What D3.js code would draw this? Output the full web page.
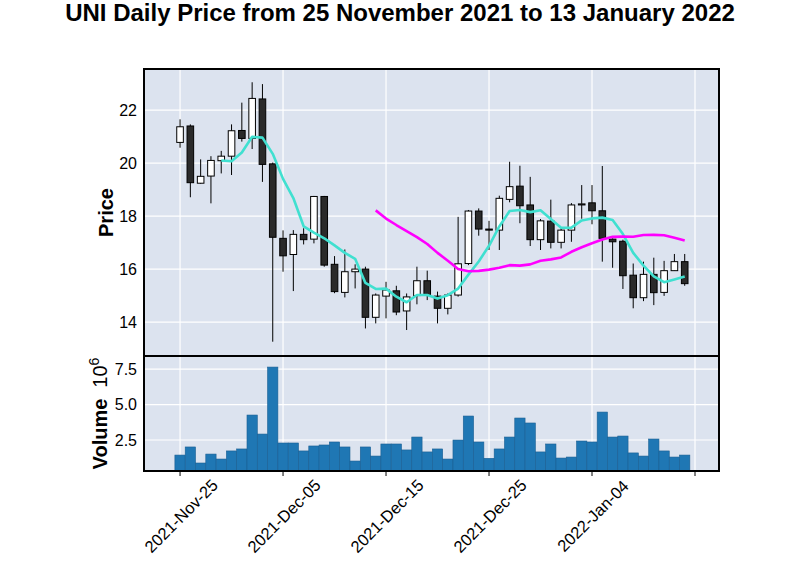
<!DOCTYPE html>
<html>
<head>
<meta charset="utf-8">
<script src="https://cdn.jsdelivr.net/npm/d3@7"></script>
<style>
body{margin:0;background:#fff;}
text{font-family:"Liberation Sans",Arial,sans-serif;fill:#000;}
</style>
</head>
<body>
<svg id="chart" width="800" height="575"></svg>
<script>
// daily UNI candles, 25 Nov 2021 - 13 Jan 2022
var dates = ["2021-11-25","2021-11-26","2021-11-27","2021-11-28","2021-11-29","2021-11-30",
  "2021-12-01","2021-12-02","2021-12-03","2021-12-04","2021-12-05","2021-12-06","2021-12-07",
  "2021-12-08","2021-12-09","2021-12-10","2021-12-11","2021-12-12","2021-12-13","2021-12-14",
  "2021-12-15","2021-12-16","2021-12-17","2021-12-18","2021-12-19","2021-12-20","2021-12-21",
  "2021-12-22","2021-12-23","2021-12-24","2021-12-25","2021-12-26","2021-12-27","2021-12-28",
  "2021-12-29","2021-12-30","2021-12-31","2022-01-01","2022-01-02","2022-01-03","2022-01-04",
  "2022-01-05","2022-01-06","2022-01-07","2022-01-08","2022-01-09","2022-01-10","2022-01-11",
  "2022-01-12","2022-01-13"];
var opens  = [20.78,21.40,19.24,19.51,20.09,20.26,21.23,20.93,22.42,19.97,17.16,16.55,17.31,17.13,18.74,
  16.18,15.12,15.90,16.00,14.18,14.98,15.18,14.42,15.00,15.56,14.98,14.52,15.02,16.21,18.19,
  17.51,17.47,18.63,19.13,18.42,17.11,17.81,17.01,17.47,18.42,18.50,18.20,17.13,17.05,15.77,
  14.92,15.80,15.12,15.94,16.28];
var highs  = [21.65,21.46,20.14,20.26,20.46,21.46,22.28,23.05,22.98,20.02,17.46,17.47,17.54,18.76,18.76,
  16.49,16.74,16.18,16.09,15.08,15.52,15.37,15.08,16.09,15.94,15.15,15.08,17.97,18.23,18.29,
  17.82,18.77,20.05,19.90,19.48,17.89,18.62,17.54,18.49,19.17,19.17,19.89,17.16,17.11,16.21,
  16.28,16.43,16.31,16.57,16.57];
var lows   = [20.58,18.71,19.22,18.48,19.61,19.55,20.81,20.53,19.29,13.26,15.90,15.17,16.93,16.97,16.09,
  15.09,14.93,15.27,13.76,13.95,14.14,14.26,13.70,14.67,14.83,13.95,14.29,14.96,16.15,17.26,
  16.72,16.72,18.52,17.73,16.87,16.72,16.78,16.78,17.03,17.90,17.69,16.28,16.05,15.25,14.52,
  14.79,14.64,14.99,15.94,15.37];
var closes = [21.37,19.26,19.50,20.10,20.26,21.22,20.93,22.44,19.95,17.20,16.50,17.31,17.11,18.74,16.15,
  15.15,15.90,16.00,14.18,15.02,15.21,14.38,14.95,15.56,15.02,14.52,15.02,16.20,18.19,17.51,
  17.47,18.67,19.11,18.39,17.11,17.82,17.01,17.47,18.42,18.46,18.20,17.16,17.03,15.75,14.92,
  15.80,15.11,15.94,16.28,15.45];
// volume in units of 10^6
var volumes = [1.44,2.01,0.88,1.51,1.16,1.73,1.87,4.26,2.92,7.64,2.29,2.29,1.73,2.08,2.15,
  2.36,2.01,1.02,2.01,1.37,2.22,2.22,1.80,2.71,1.66,1.87,1.16,2.50,4.19,2.36,
  1.21,1.87,2.71,4.05,3.70,1.66,2.22,1.23,1.30,2.43,2.36,4.47,2.71,2.78,1.59,
  1.37,2.57,1.73,1.30,1.44];

var priceTicks = [14, 16, 18, 20, 22];
var volumeTicks = [2.5, 5.0, 7.5];
var dateTickIndex = [0, 10, 20, 30, 40, 50];
var mavWindows = [5, 20];
var mavColors = ["#40e0d0", "#ff00ff"];

function drawChart(){
    var svg = d3.select("#chart");
    var pad = {left: 144, right: 719, top: 69, split: 356, bottom: 471};
    var bg = "#dce3ef";

    var parse = d3.timeParse("%Y-%m-%d");
    var fmt = d3.timeFormat("%Y-%b-%d");
    var idx = d3.range(dates.length);

    var x = d3.scaleLinear().domain([-3.5, 52.33]).range([pad.left, pad.right]);
    var yP = d3.scaleLinear().domain([12.72, 23.55]).range([pad.split, pad.top]);
    var yV = d3.scaleLinear().domain([0.317, 8.42]).range([pad.bottom, pad.split]);

    // panel background
    svg.append("rect").attr("x", pad.left).attr("y", pad.top)
        .attr("width", pad.right - pad.left).attr("height", pad.bottom - pad.top).attr("fill", bg);

    svg.append("clipPath").attr("id", "clipP").append("rect")
        .attr("x", pad.left).attr("y", pad.top).attr("width", pad.right - pad.left).attr("height", pad.split - pad.top);
    svg.append("clipPath").attr("id", "clipV").append("rect")
        .attr("x", pad.left).attr("y", pad.split).attr("width", pad.right - pad.left).attr("height", pad.bottom - pad.split);

    // grid
    var grid = svg.append("g").attr("stroke", "#fff").attr("stroke-width", 1.2);
    grid.selectAll(".hp").data(priceTicks).enter().append("line")
        .attr("x1", pad.left).attr("x2", pad.right).attr("y1", d => yP(d)).attr("y2", d => yP(d));
    grid.selectAll(".hv").data(volumeTicks).enter().append("line")
        .attr("x1", pad.left).attr("x2", pad.right).attr("y1", d => yV(d)).attr("y2", d => yV(d));
    grid.selectAll(".vg").data(dateTickIndex).enter().append("line")
        .attr("x1", d => x(d)).attr("x2", d => x(d)).attr("y1", pad.top).attr("y2", pad.bottom);

    // volume bars
    var step = x(1) - x(0);
    svg.append("g").attr("clip-path", "url(#clipV)")
        .selectAll("rect").data(idx).enter().append("rect")
        .attr("x", i => x(i) - step / 2)
        .attr("width", step)
        .attr("y", i => yV(volumes[i]))
        .attr("height", i => pad.bottom - yV(volumes[i]))
        .attr("fill", "#1f77b4")
        .attr("stroke", "#1a5f93")
        .attr("stroke-width", 0.6);

    // candles
    var bw = 6.6;
    var candles = svg.append("g").attr("clip-path", "url(#clipP)");
    candles.selectAll("line").data(idx).enter().append("line")
        .attr("x1", i => x(i)).attr("x2", i => x(i))
        .attr("y1", i => yP(highs[i])).attr("y2", i => yP(lows[i]))
        .attr("stroke", "#000").attr("stroke-width", 1);
    candles.selectAll("rect").data(idx).enter().append("rect")
        .attr("x", i => x(i) - bw / 2)
        .attr("width", bw)
        .attr("y", i => yP(Math.max(opens[i], closes[i])))
        .attr("height", i => Math.max(1, Math.abs(yP(opens[i]) - yP(closes[i]))))
        .attr("fill", i => closes[i] >= opens[i] ? "#fff" : "#2a2a2a")
        .attr("stroke", "#000").attr("stroke-width", 1);

    // moving averages of close
    mavWindows.forEach(function(w, k){
        var pts = idx.filter(i => i >= w - 1)
                     .map(i => [i, d3.mean(closes.slice(i - w + 1, i + 1))]);
        var line = d3.line().x(d => x(d[0])).y(d => yP(d[1]));
        svg.append("path").attr("clip-path", "url(#clipP)")
            .attr("d", line(pts))
            .attr("fill", "none")
            .attr("stroke", mavColors[k])
            .attr("stroke-width", 2.6)
            .attr("stroke-linejoin", "round");
    });

    // frames
    svg.append("rect").attr("x", pad.left).attr("y", pad.top)
        .attr("width", pad.right - pad.left).attr("height", pad.bottom - pad.top)
        .attr("fill", "none").attr("stroke", "#000").attr("stroke-width", 2);
    svg.append("line").attr("x1", pad.left).attr("x2", pad.right).attr("y1", pad.split).attr("y2", pad.split)
        .attr("stroke", "#000").attr("stroke-width", 2);

    // y tick labels
    svg.selectAll(".pt").data(priceTicks).enter().append("text")
        .attr("x", 137).attr("y", d => yP(d)).attr("dy", "0.35em")
        .attr("text-anchor", "end").style("font-size", "16px")
        .text(d => d);
    svg.selectAll(".vt").data(volumeTicks).enter().append("text")
        .attr("x", 137).attr("y", d => yV(d)).attr("dy", "0.35em")
        .attr("text-anchor", "end").style("font-size", "16px")
        .text(d => d.toFixed(1));

    // x ticks + rotated date labels (no label past the last date)
    svg.selectAll(".xt").data(dateTickIndex).enter().append("line")
        .attr("x1", d => x(d)).attr("x2", d => x(d))
        .attr("y1", pad.bottom + 1).attr("y2", pad.bottom + 5)
        .attr("stroke", "#000").attr("stroke-width", 1);
    svg.selectAll(".xl").data(dateTickIndex.filter(d => d < dates.length)).enter().append("text")
        .attr("transform", d => "translate(" + (x(d) + 1) + "," + 516 + ") rotate(-45)")
        .attr("text-anchor", "middle").attr("dy", "0.35em")
        .style("font-size", "16.5px")
        .text(d => fmt(parse(dates[d])));

    // axis titles
    svg.append("text")
        .attr("transform", "translate(113," + ((pad.top + pad.split) / 2) + ") rotate(-90)")
        .attr("text-anchor", "middle")
        .style("font-size", "20px").style("font-weight", "bold")
        .text("Price");
    var vl = svg.append("text")
        .attr("transform", "translate(107," + ((pad.split + pad.bottom) / 2) + ") rotate(-90)")
        .attr("text-anchor", "middle")
        .style("font-size", "20px");
    vl.append("tspan").style("font-weight", "bold").text("Volume");
    vl.append("tspan").attr("dx", 11).text("10");
    vl.append("tspan").attr("dy", -8).style("font-size", "14px").text("6");

    // title
    svg.append("text")
        .attr("x", 400).attr("y", 21)
        .attr("text-anchor", "middle")
        .style("font-size", "24px").style("font-weight", "bold")
        .text("UNI Daily Price from 25 November 2021 to 13 January 2022");
}

drawChart();
</script>
</body>
</html>
